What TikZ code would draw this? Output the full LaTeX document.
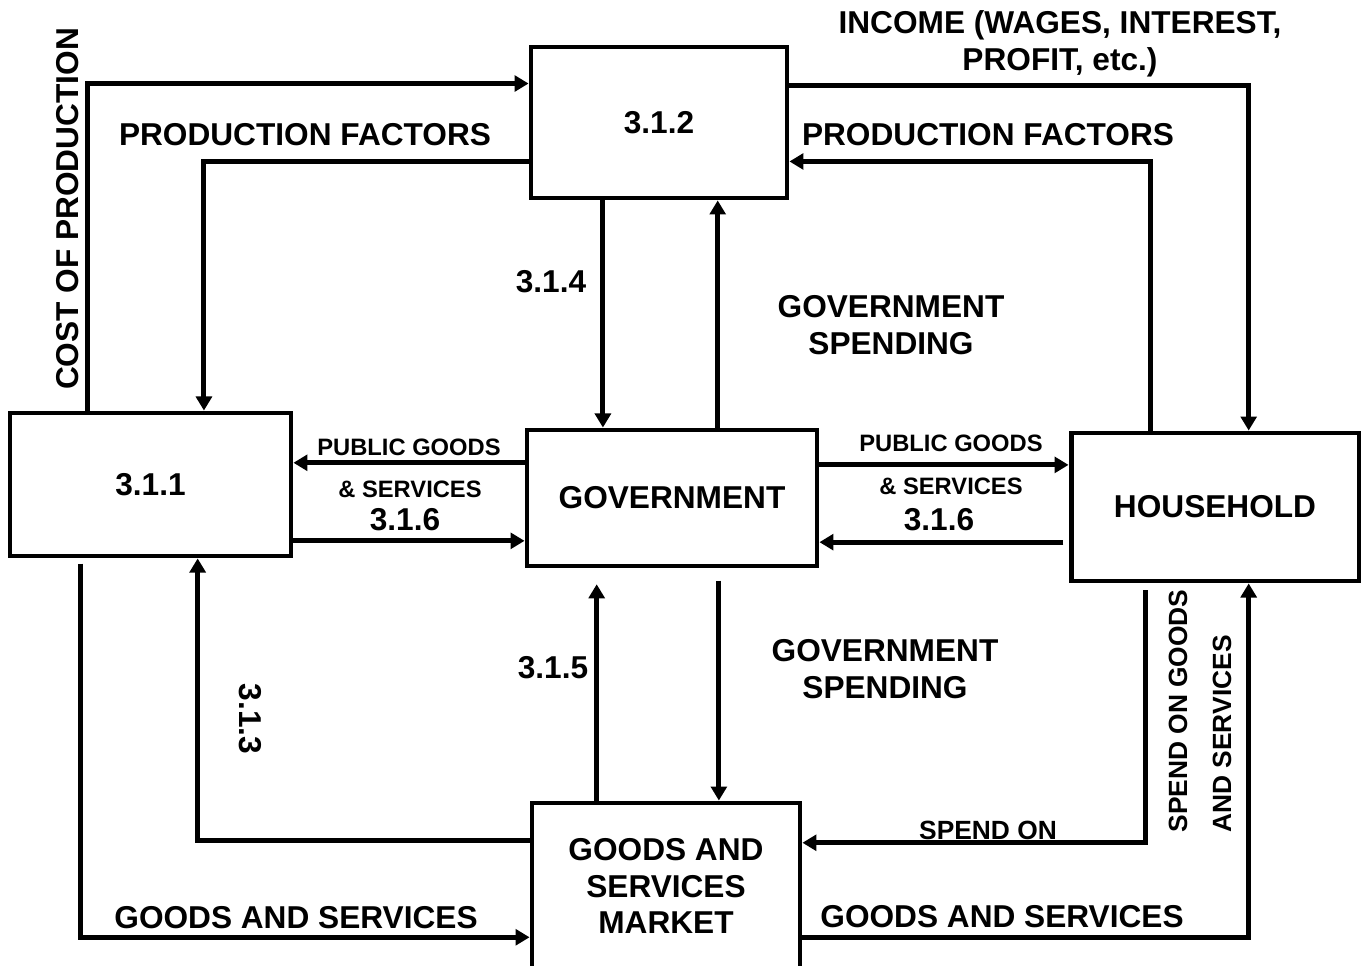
\documentclass[tikz,border=0pt]{standalone}
\usepackage{fontspec}
\setmainfont{Liberation Sans}
\usetikzlibrary{positioning, calc, arrows.meta}

\tikzset{
  block/.style={draw, line width=2.8pt, align=center, inner sep=0pt,
    font=\bfseries\fontsize{18}{21}\selectfont},
  flow/.style={line width=2.8pt, -{Triangle[length=8pt, width=9pt]}},
  big/.style={font=\bfseries\fontsize{18}{21}\selectfont, align=center},
  small/.style={font=\bfseries\fontsize{13.5}{16}\selectfont},
  spend/.style={font=\bfseries\fontsize{15}{18}\selectfont},
}

\begin{document}
\begin{tikzpicture}[x=0.02cm, y=-0.02cm]
    \useasboundingbox (0,0) rectangle (1366,966);

    % --- Boxes ---
    \node[block, minimum width=5.12cm, minimum height=3.02cm] (factor) at (659,122.5) {3.1.2};
    \node[block, minimum width=5.62cm, minimum height=2.86cm] (firm) at (150.5,484.5) {3.1.1};
    \node[block, minimum width=5.8cm, minimum height=2.72cm] (gov) at (672,498) {GOVERNMENT};
    \node[block, minimum width=5.76cm, minimum height=2.96cm] (house) at (1215,507) {HOUSEHOLD};
    \node[block, minimum width=5.36cm, minimum height=3.32cm] (market) at (666,886) {GOODS AND\\SERVICES\\MARKET};

    % --- Top loop: factor market ---
    % cost of production, firm up to the factor market
    \draw[flow] ($(firm.north west)!.281!(firm.north east)$) |- ($(factor.north west)!.25!(factor.south west)$);
    % production factors down to the firm
    \draw[flow] ($(factor.north west)!.75!(factor.south west)$) -| ($(firm.north west)!.687!(firm.north east)$);
    % income over to the household
    \draw[flow] ($(factor.north east)!.265!(factor.south east)$) -| ($(house.north west)!.615!(house.north east)$);
    % production factors from the household
    \draw[flow] ($(house.north west)!.281!(house.north east)$) |- ($(factor.north east)!.75!(factor.south east)$);

    % --- Government and factor market ---
    \coordinate (f4) at ($(factor.south west)!.285!(factor.south east)$);
    \draw[flow] (f4) -- (f4 |- gov.north);
    \coordinate (g2) at ($(gov.north west)!.655!(gov.north east)$);
    \draw[flow] (g2) -- (g2 |- factor.south);

    % --- Public goods & services, both sides ---
    \coordinate (g3) at ($(gov.north west)!.25!(gov.south west)$);
    \draw[flow] (g3) -- (g3 -| firm.east);
    \coordinate (f5) at ($(firm.north east)!.881!(firm.south east)$);
    \draw[flow] (f5) -- (f5 -| gov.west);
    \coordinate (g4) at ($(gov.north east)!.265!(gov.south east)$);
    \draw[flow] (g4) -- (g4 -| house.west);
    \coordinate (h3) at ($(house.north west)!.73!(house.south west)$);
    \draw[flow, shorten <=3pt] (h3) -- (h3 -| gov.east);

    % --- Government and goods market ---
    \coordinate (m1) at ($(market.north west)!.246!(market.north east)$);
    \draw[flow, shorten >=9pt] (m1) -- (m1 |- gov.south);
    \coordinate (g5) at ($(gov.south west)!.659!(gov.south east)$);
    \draw[flow, shorten <=7pt] (g5) -- (g5 |- market.north);

    % --- Bottom loop: goods market ---
    \draw[flow] ($(market.north west)!.235!(market.south west)$) -| ($(firm.south west)!.665!(firm.south east)$);
    \draw[flow, shorten <=3pt] ($(firm.south west)!.256!(firm.south east)$) |- ($(market.north west)!.80!(market.south west)$);
    \draw[flow, shorten <=4pt] ($(house.south west)!.264!(house.south east)$) |- ($(market.north east)!.247!(market.south east)$);
    \draw[flow] ($(market.north east)!.80!(market.south east)$) -| ($(house.south west)!.615!(house.south east)$);

    % --- Labels ---
    \node[big, rotate=90] (costlbl) at (68,209) {COST OF PRODUCTION};
    \node[big] (pfleft) at (305,135) {PRODUCTION FACTORS};
    \node[big] (pfright) at (988,135) {PRODUCTION FACTORS};
    \node[big] (income) at (1060,44) {INCOME (WAGES, INTEREST,\\PROFIT, etc.)};
    \node[big] (n314) at (551,282) {3.1.4};
    \node[big] (gsup) at (891,325.5) {GOVERNMENT\\SPENDING};

    \node[small] (pgleft) at (409,447) {PUBLIC GOODS};
    \node[small] (psleft) at (410,489) {\& SERVICES};
    \node[big] (n316a) at (405,520) {3.1.6};
    \node[small] (pgright) at (951,443) {PUBLIC GOODS};
    \node[small] (psright) at (951,486) {\& SERVICES};
    \node[big] (n316b) at (939,520) {3.1.6};

    \node[big] (n315) at (553,668) {3.1.5};
    \node[big] (gsdown) at (885,669.5) {GOVERNMENT\\SPENDING};
    \node[big, rotate=-90] (n313) at (250,719) {3.1.3};

    \node[big] (gsleft) at (296,918) {GOODS AND SERVICES};
    \node[big] (gsright) at (1002,917) {GOODS AND SERVICES};
    \node[spend] (spendon) at (988,830) {SPEND ON};
    \node[spend, rotate=90] (spendv1) at (1178,711) {SPEND ON GOODS};
    \node[spend, rotate=90] (spendv2) at (1222,734) {AND SERVICES};

\end{tikzpicture}
\end{document}
